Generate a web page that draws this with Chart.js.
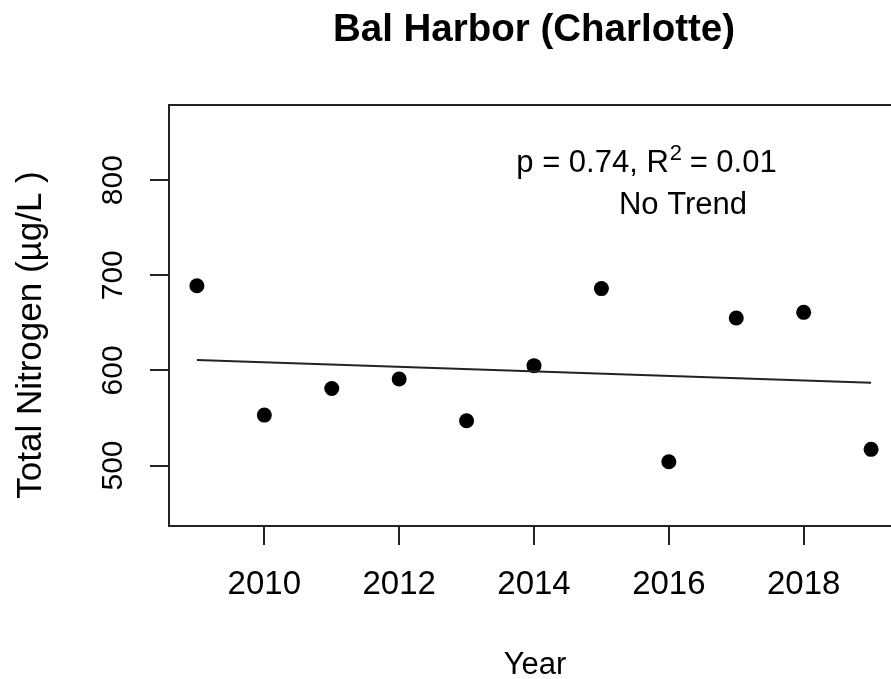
<!DOCTYPE html>
<html>
<head>
<meta charset="utf-8">
<script src="https://cdn.jsdelivr.net/npm/chart.js@4"></script>
<style>
  html, body { margin: 0; padding: 0; background: #fff; overflow: hidden; }
  #wrap { width: 891px; height: 679px; overflow: hidden; position: relative; }
  canvas { display: block; }
</style>
</head>
<body>
<div id="wrap"><canvas id="c" width="910" height="679"></canvas></div>
<script>
// ---- data ----
const years = [2009, 2010, 2011, 2012, 2013, 2014, 2015, 2016, 2017, 2018, 2019];
const nitrogen = [689, 553, 581, 591, 547, 605, 686, 504, 655, 661, 517];
const trendYears = [2009, 2019];
const trendValues = [611, 587];
const xTicks = [2010, 2012, 2014, 2016, 2018];
const yTicks = [500, 600, 700, 800];
const titleText = 'Bal Harbor (Charlotte)';
const xTitle = 'Year';
const yTitle = 'Total Nitrogen (\u00B5g/L )';
const statP = 'p = 0.74, R';
const statSup = '2';
const statEnd = ' = 0.01';
const trendLabel = 'No Trend';

const FONT = '"Liberation Sans", Arial, Helvetica, sans-serif';

const textPlugin = {
  id: 'rtext',
  afterDraw(chart) {
    const ctx = chart.ctx;
    const a = chart.chartArea;
    ctx.save();
    // box
    ctx.strokeStyle = '#222';
    ctx.lineWidth = 2;
    ctx.strokeRect(a.left, a.top, a.right - a.left, a.bottom - a.top);
    ctx.fillStyle = '#000';
    ctx.textBaseline = 'alphabetic';
    // title
    ctx.font = 'bold 38.5px ' + FONT;
    ctx.textAlign = 'center';
    ctx.fillText(titleText, 534, 41);
    // x title
    ctx.font = '31px ' + FONT;
    ctx.fillText(xTitle, 535, 674);
    // y title
    ctx.save();
    ctx.translate(41, 335);
    ctx.rotate(-Math.PI / 2);
    ctx.font = '35px ' + FONT;
    ctx.textAlign = 'center';
    ctx.fillText(yTitle, 0, 0);
    ctx.restore();
    // stats annotation
    ctx.textAlign = 'left';
    ctx.font = '31px ' + FONT;
    const w1 = ctx.measureText(statP).width;
    const w3 = ctx.measureText(statEnd).width;
    ctx.font = '22px ' + FONT;
    const w2 = ctx.measureText(statSup).width;
    const total = w1 + w2 + w3;
    let x0 = 646.5 - total / 2;
    ctx.font = '31px ' + FONT;
    ctx.fillText(statP, x0, 172);
    ctx.font = '22px ' + FONT;
    ctx.fillText(statSup, x0 + w1 + 1, 160);
    ctx.font = '31px ' + FONT;
    ctx.fillText(statEnd, x0 + w1 + w2, 172);
    ctx.textAlign = 'center';
    ctx.fillText(trendLabel, 683, 214);
    ctx.restore();
  }
};

new Chart(document.getElementById('c'), {
  type: 'scatter',
  data: {
    datasets: [
      {
        type: 'line',
        data: trendYears.map((x, i) => ({ x: x, y: trendValues[i] })),
        borderColor: '#222',
        borderWidth: 2,
        pointRadius: 0,
        fill: false,
        showLine: true
      },
      {
        data: years.map((x, i) => ({ x: x, y: nitrogen[i] })),
        backgroundColor: '#000',
        borderColor: '#000',
        pointRadius: 7.5,
        pointBorderWidth: 0,
        showLine: false
      }
    ]
  },
  options: {
    responsive: false,
    animation: false,
    devicePixelRatio: 1,
    layout: { padding: { top: 105, right: 11, left: 0, bottom: 0 } },
    plugins: { legend: { display: false }, tooltip: { enabled: false }, title: { display: false } },
    scales: {
      x: {
        type: 'linear',
        position: 'bottom',
        min: 2008.586,
        max: 2019.414,
        afterBuildTicks: s => { s.ticks = xTicks.map(v => ({ value: v })); },
        afterFit: s => { s.height = 153; },
        ticks: {
          autoSkip: false,
          maxRotation: 0,
          minRotation: 0,
          padding: 20,
          color: '#000',
          font: { family: FONT, size: 33, lineHeight: 1.2 },
          callback: v => String(v)
        },
        grid: { drawOnChartArea: false, drawTicks: true, tickLength: 19, color: '#222', lineWidth: 2 },
        border: { display: false }
      },
      y: {
        type: 'linear',
        position: 'left',
        min: 436.4,
        max: 879,
        afterBuildTicks: s => { s.ticks = yTicks.map(v => ({ value: v })); },
        afterFit: s => { s.width = 169; },
        ticks: {
          autoSkip: false,
          minRotation: 90,
          maxRotation: 90,
          crossAlign: 'center',
          padding: 11,
          color: '#000',
          font: { family: FONT, size: 30, lineHeight: 1.2 },
          callback: v => String(v)
        },
        grid: { drawOnChartArea: false, drawTicks: true, tickLength: 19, color: '#222', lineWidth: 2 },
        border: { display: false }
      }
    }
  },
  plugins: [textPlugin]
});
</script>
</body>
</html>
